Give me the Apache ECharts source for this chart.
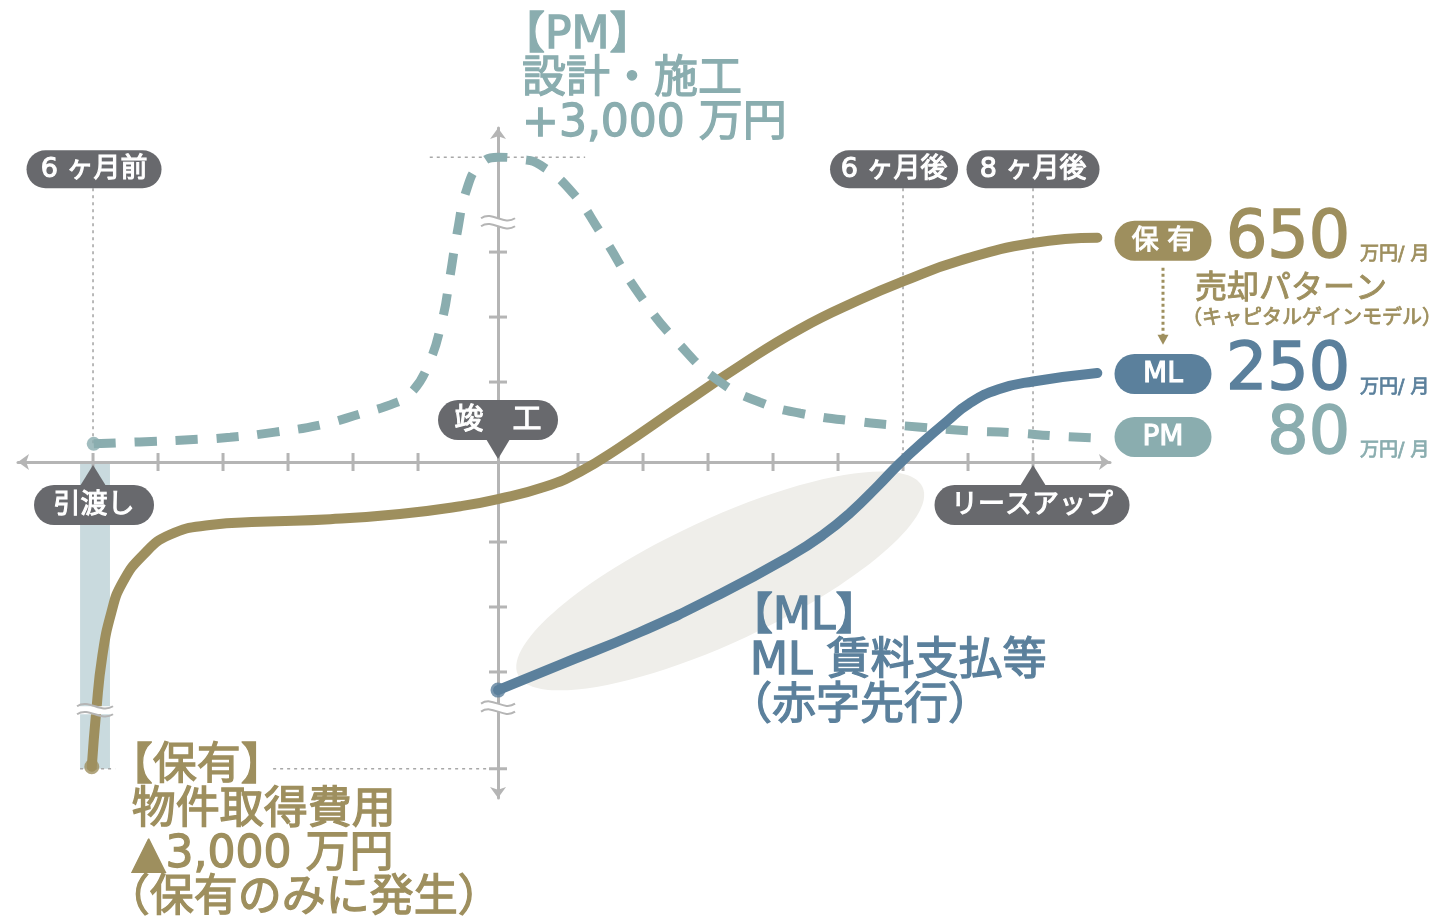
<!DOCTYPE html>
<html lang="ja">
<head>
<meta charset="utf-8">
<script src="https://cdn.jsdelivr.net/npm/echarts@6/dist/echarts.min.js"></script>
<style>
html,body{margin:0;padding:0;background:#ffffff;}
#chart{width:1437px;height:920px;}
</style>
</head>
<body>
<div id="chart"></div>
<script>
// ===== data (axis units: one tick step = 1, origin = 竣工) =====
const monthTicks = [-6, -5, -4, -3, -2, -1, 1, 2, 3, 4, 5, 6, 7, 8];
const valueTicks = [-3, -2, -1, 1, 2, 3];
const peakLevel = 4.69;   // PM 設計・施工 +3,000万円
const costLevel = -4.72;  // 保有 物件取得費用 ▲3,000万円
const breakHigh = 3.69;
const breakLow = -3.78;

const holdX = [-6.25, -6.18, -6.09, -5.95, -5.78, -5.46, -5.05, -4.43, -3.66, -2.58, -1.51, -0.58, 0, 0.72, 1.26, 1.88, 2.80, 3.72, 4.65, 5.57, 6.23, 7.11, 8.23, 9.22];
const holdY = [-4.69, -3.82, -3.00, -2.32, -1.86, -1.43, -1.12, -0.97, -0.92, -0.88, -0.80, -0.68, -0.57, -0.38, -0.15, 0.23, 0.86, 1.48, 2.05, 2.50, 2.78, 3.10, 3.37, 3.45];

const mlX = [0, 0.95, 2.18, 3.42, 4.49, 5.00, 5.42, 5.85, 6.18, 6.55, 6.90, 7.25, 7.70, 8.23, 9.22];
const mlY = [-3.51, -3.12, -2.62, -2.03, -1.45, -1.12, -0.78, -0.36, -0.02, 0.32, 0.62, 0.90, 1.12, 1.24, 1.37];

const pmX = [-6.22, -5.51, -4.82, -4.12, -3.43, -2.74, -2.12, -1.58, -1.35, -1.08, -0.86, -0.74, -0.63, -0.48, -0.28, 0, 0.34, 0.65, 1.15, 1.57, 2.18, 2.80, 3.42, 4.03, 4.65, 5.57, 6.46, 7.22, 7.91, 8.60, 9.26];
const pmY = [0.28, 0.31, 0.34, 0.38, 0.46, 0.57, 0.74, 0.91, 1.05, 1.48, 2.18, 2.85, 3.52, 4.20, 4.57, 4.69, 4.66, 4.57, 4.14, 3.54, 2.57, 1.80, 1.23, 0.92, 0.75, 0.62, 0.54, 0.48, 0.45, 0.40, 0.37];

const topLabels = ['6 ヶ月前', '6 ヶ月後', '8 ヶ月後'];
const topLabelMonths = [-6, 6, 8];
const milestoneLabels = ['引渡し', '竣　工', 'リースアップ'];
const milestoneMonths = [-6, 0, 8];
const seriesNames = ['保 有', 'ML', 'PM'];
const monthlyValues = ['650', '250', '80'];
const unitText = '万円/ 月';
const pmNote = ['【PM】', '設計・施工', '+3,000 万円'];
const holdNote = ['【保有】', '物件取得費用', '▲3,000 万円', '（保有のみに発生）'];
const mlNote = ['【ML】', 'ML 賃料支払等', '（赤字先行）'];
const saleNote = ['売却パターン', '（キャピタルゲインモデル）'];

// ===== layout / style =====
const X_MIN = -7.385, X_MAX = 9.415, Y_MIN = -5.17, Y_MAX = 5.14;
const GAP = 15 / 65;
const pos = m => (m === 0 ? 0 : m + Math.sign(m) * GAP);
const zip = (xs, ys) => xs.map((x, i) => [x, ys[i]]);

const FONT = '"DejaVu Sans", "Noto Sans CJK JP", sans-serif';
const GOLD = '#9e8f5e', BLUE = '#5b809c', TEAL = '#8aadaf', DARK = '#68696d';
const AXIS = '#b5b5b5', DOTC = '#a8a8a8', ELLIPSE = '#efeeea', BAND = '#c9dade';

function txt(x, y, s, size, color, align, thick) {
  align = align || 'left';
  return {
    type: 'text', x: x, y: y,
    style: {
      text: s, fill: color, stroke: color, lineWidth: thick == null ? Math.max(0.8, size / 34) : thick,
      fontSize: size, fontFamily: FONT, fontWeight: 'normal',
      align: align, verticalAlign: 'middle', textAlign: align, textVerticalAlign: 'middle'
    }
  };
}
function seg(x1, y1, x2, y2, color, width, dash) {
  return { type: 'line', shape: { x1, y1, x2, y2 }, style: { stroke: color, lineWidth: width, lineDash: dash || null, fill: null } };
}
function pill(cx, cy, w, h, fill, label, size, pointer) {
  const kids = [{ type: 'rect', shape: { x: cx - w / 2, y: cy - h / 2, width: w, height: h, r: h / 2 }, style: { fill } }];
  if (pointer) kids.push({ type: 'polygon', shape: { points: pointer }, style: { fill } });
  kids.push(txt(cx, cy + 1, label, size, '#ffffff', 'center', 1.1));
  return kids;
}
function brk(x, y, w) {
  const wave = (yy) => ({
    type: 'bezierCurve',
    shape: { x1: x - w / 2, y1: yy, cpx1: x - w / 6, cpy1: yy - 8, cpx2: x + w / 6, cpy2: yy + 8, x2: x + w / 2, y2: yy },
    style: { stroke: AXIS, lineWidth: 2, fill: null }
  });
  return [
    { type: 'rect', shape: { x: x - w / 2, y: y - 4, width: w, height: 8 }, style: { fill: '#ffffff' } },
    wave(y - 4), wave(y + 4)
  ];
}

function underItem(params, api) {
  const c = p => api.coord(p);
  const kids = [];
  const ec = c([3.42, -1.83]);
  const rx = api.size([3.43, 0])[0], ry = api.size([0, 0.95])[1];
  kids.push({ type: 'ellipse', x: ec[0], y: ec[1], rotation: 0.435, shape: { cx: 0, cy: 0, rx, ry }, style: { fill: ELLIPSE } });
  const b1 = c([-6.43, 0]), b2 = c([-5.97, costLevel]);
  kids.push({ type: 'rect', shape: { x: b1[0], y: b1[1] + 2, width: b2[0] - b1[0], height: b2[1] - b1[1] - 2 }, style: { fill: BAND } });
  const pk = c([0, peakLevel])[1];
  topLabelMonths.forEach((m, i) => {
    const top = c([pos(m), peakLevel])[1] + 31;
    const bot = (i === 0) ? c([pos(m), pmY[0]])[1] : c([pos(m), 0])[1];
    const x = c([pos(m), 0])[0];
    kids.push(seg(x, top, x, bot, DOTC, 1.6, [3, 4]));
  });
  const pa = c([-1.05, peakLevel]), pb = c([1.34, peakLevel]);
  kids.push(seg(pa[0], pk, pb[0], pk, DOTC, 1.6, [3, 4]));
  const ca = c([-6.43, costLevel]), cb = c([-5.89, costLevel]), cc = c([-3.46, costLevel]), cd = c([0, costLevel]);
  kids.push(seg(ca[0], ca[1], cb[0], cb[1], DOTC, 1.6, [3, 4]));
  kids.push(seg(cc[0], cc[1], cd[0], cd[1], DOTC, 1.6, [3, 4]));
  monthTicks.forEach(m => {
    const p = c([pos(m), 0]);
    kids.push(seg(p[0], p[1] - 9, p[0], p[1] + 9, AXIS, 3));
  });
  valueTicks.map(pos).concat([costLevel]).forEach(v => {
    const p = c([0, v]);
    kids.push(seg(p[0] - 9, p[1], p[0] + 9, p[1], AXIS, 3));
  });
  return { type: 'group', children: kids };
}

function overItem(params, api) {
  const c = p => api.coord(p);
  let kids = [];
  const bh = c([0, breakHigh]), bl = c([0, breakLow]), bg = c([-6.2, -3.82]);
  kids = kids.concat(brk(bh[0], bh[1], 34), brk(bl[0], bl[1], 34), brk(bg[0], bg[1], 36));

  const topW = [135, 128, 133], topDx = [1, -9, 0];
  topLabelMonths.forEach((m, i) => {
    const p = c([pos(m), peakLevel]);
    kids = kids.concat(pill(p[0] + topDx[i], p[1] + 12, topW[i], 38, DARK, topLabels[i], 27));
  });
  const msW = [120, 120, 195], msDx = [1, 0, -1], msDir = [1, -1, 1];
  milestoneMonths.forEach((m, i) => {
    const a = c([pos(m), 0]);
    const cx = a[0] + msDx[i];
    const dir = msDir[i];
    const cy = a[1] + dir * (dir > 0 ? 43 : 42);
    const baseY = cy - dir * 19;
    const tipY = a[1] + dir * 3;
    const hw = dir > 0 ? 13 : 12;
    const pointer = [[a[0] - hw, baseY], [a[0] + hw, baseY], [a[0], tipY]];
    kids = kids.concat(pill(cx, cy, msW[i], 40, DARK, milestoneLabels[i], i === 1 ? 29 : 27, pointer));
  });

  const pmA = c([0, peakLevel]);
  [[3, -121], [24, -77], [24, -33]].forEach((o, i) => kids.push(txt(pmA[0] + o[0], pmA[1] + o[1], pmNote[i], 44, TEAL)));
  const hA = c([holdX[0], holdY[0]]);
  [[17, 1], [40, 45], [40, 89], [14, 133]].forEach((o, i) => kids.push(txt(hA[0] + o[0], hA[1] + o[1], holdNote[i], 44, GOLD)));
  const mA = c([mlX[0], mlY[0]]);
  [[231, -73], [252, -28], [230, 17]].forEach((o, i) => kids.push(txt(mA[0] + o[0], mA[1] + o[1], mlNote[i], 44, BLUE)));

  const ax = c([X_MAX, 0])[0];
  const rows = [
    { y: c([0, holdY[holdY.length - 1]])[1], col: GOLD, d: [3, 2, 17], fs: 27 },
    { y: c([0, mlY[mlY.length - 1]])[1], col: BLUE, d: [1, -1, 15], fs: 28 },
    { y: c([0, pmY[pmY.length - 1]])[1], col: TEAL, d: [-1, -2, 13], fs: 28 }
  ];
  rows.forEach((r, i) => {
    kids = kids.concat(pill(ax + 53, r.y + r.d[0], 97, 40, r.col, seriesNames[i], r.fs));
    kids.push(txt(ax + 240, r.y + r.d[1], monthlyValues[i], 65, r.col, 'right', 1.6));
    kids.push(txt(ax + 250, r.y + r.d[2], unitText, 19, r.col, 'left', 0.8));
  });
  const g = rows[0].y;
  kids.push(txt(ax + 85, g + 52, saleNote[0], 32, GOLD, 'left'));
  kids.push(txt(ax + 202, g + 81, saleNote[1], 20, GOLD, 'center', 0.8));
  kids.push(seg(ax + 53, g + 30, ax + 53, g + 98, GOLD, 3, [3, 3]));
  kids.push({ type: 'polygon', shape: { points: [[ax + 47.5, g + 97], [ax + 58.5, g + 97], [ax + 53, g + 107]] }, style: { fill: GOLD } });

  return { type: 'group', children: kids };
}

const chart = echarts.init(document.getElementById('chart'), null, { renderer: 'canvas' });
chart.setOption({
  backgroundColor: '#ffffff',
  animation: false,
  grid: { left: 18, right: 327, top: 128, bottom: 122, containLabel: false, outerBoundsMode: 'none' },
  xAxis: {
    type: 'value', min: X_MIN, max: X_MAX,
    axisLine: { onZero: true, lineStyle: { color: AXIS, width: 3 }, symbol: ['arrow', 'arrow'], symbolSize: [12, 11] },
    axisTick: { show: false }, axisLabel: { show: false }, splitLine: { show: false }
  },
  yAxis: {
    type: 'value', min: Y_MIN, max: Y_MAX,
    axisLine: { onZero: true, lineStyle: { color: AXIS, width: 3 }, symbol: ['arrow', 'arrow'], symbolSize: [12, 11] },
    axisTick: { show: false }, axisLabel: { show: false }, splitLine: { show: false }
  },
  series: [
    { type: 'custom', name: 'under', data: [[0, 0]], renderItem: underItem, z: 1, silent: true, clip: false },
    {
      type: 'line', name: '保有', data: zip(holdX, holdY), smooth: 0.5,
      showSymbol: false, symbol: 'none', lineStyle: { color: GOLD, width: 10, cap: 'round' }, z: 3, silent: true, clip: false
    },
    {
      type: 'line', name: 'PM', data: zip(pmX, pmY), smooth: 0.5,
      showSymbol: false, symbol: 'none', lineStyle: { color: TEAL, width: 9, type: [22, 19], cap: 'butt' }, z: 3, silent: true, clip: false
    },
    {
      type: 'line', name: 'ML', data: zip(mlX, mlY), smooth: 0.5,
      showSymbol: false, symbol: 'none', lineStyle: { color: BLUE, width: 10, cap: 'round' }, z: 4, silent: true, clip: false
    },
    { type: 'scatter', data: [[holdX[0], holdY[0]]], symbolSize: 15, itemStyle: { color: GOLD }, z: 4, silent: true },
    { type: 'scatter', data: [[mlX[0], mlY[0]]], symbolSize: 15, itemStyle: { color: BLUE }, z: 4, silent: true },
    { type: 'scatter', data: [[pmX[0], pmY[0]]], symbolSize: 14, itemStyle: { color: TEAL }, z: 4, silent: true },
    { type: 'custom', name: 'over', data: [[0, 0]], renderItem: overItem, z: 6, silent: true, clip: false }
  ]
});
</script>
</body>
</html>
